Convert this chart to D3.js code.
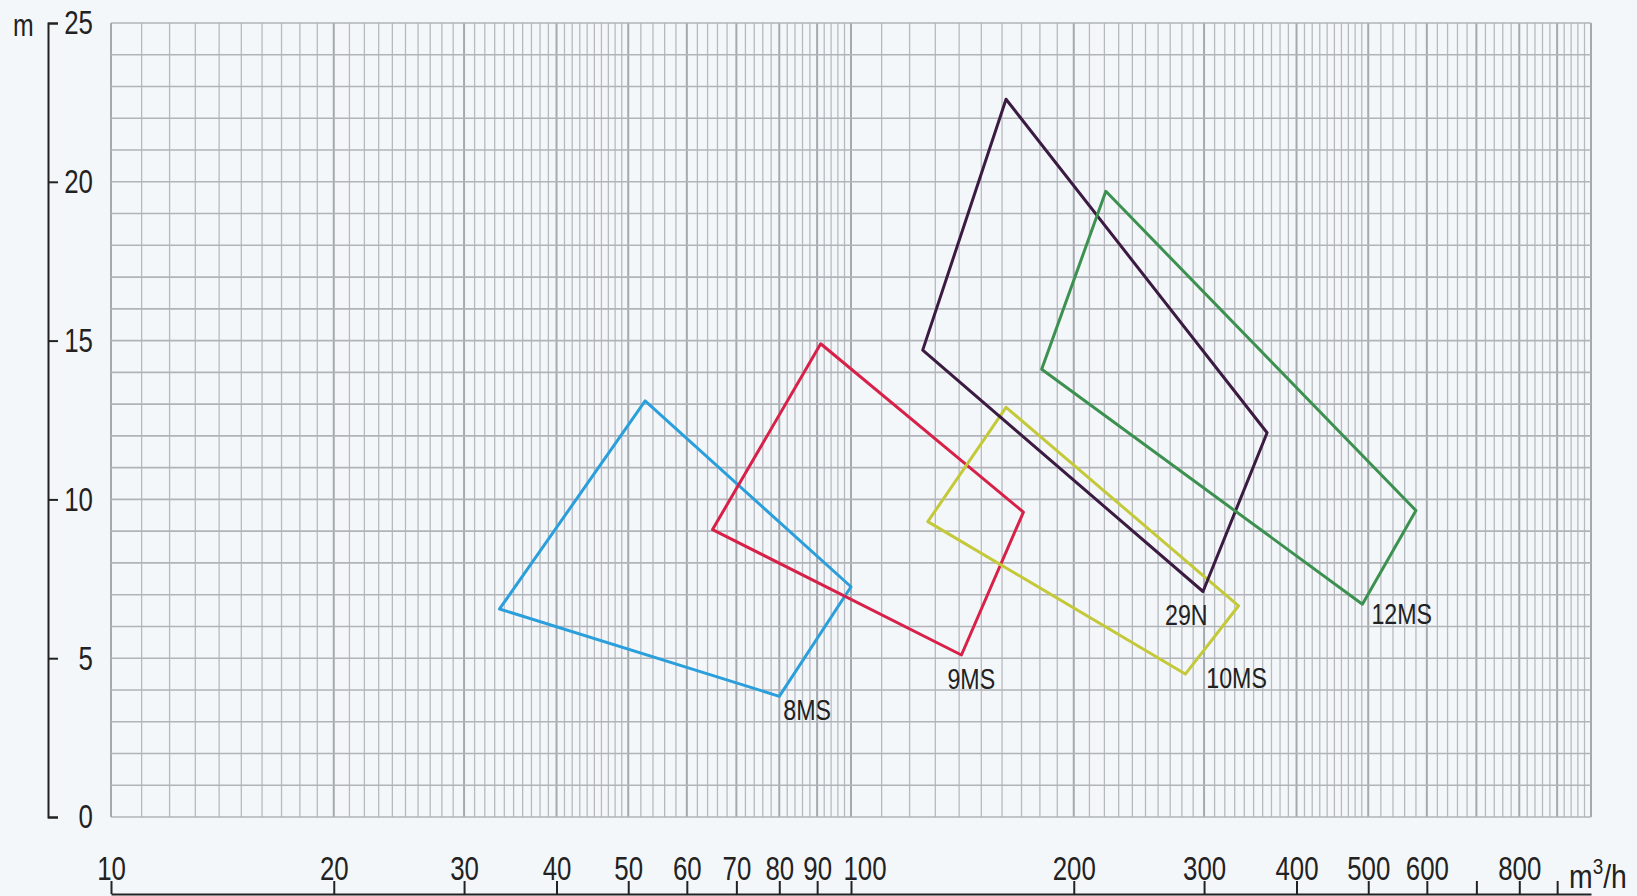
<!DOCTYPE html>
<html>
<head>
<meta charset="utf-8">
<script src="https://cdn.jsdelivr.net/npm/d3@7"></script>
<style>
  html, body { margin: 0; padding: 0; background: #f4f7fa; }
  svg { display: block; font-family: "Liberation Sans", Arial, sans-serif; }
</style>
</head>
<body>
<svg width="1637" height="896"></svg>
<script>
// pump ranges: flow Q (m3/h) and head H (m), corners in drawing order
const models = ['8MS', '9MS', '10MS', '29N', '12MS'];
const q8MS  = [52.7, 100, 80, 33.5];
const h8MS  = [13.1, 7.25, 3.8, 6.55];
const q9MS  = [91, 171, 141, 65];
const h9MS  = [14.9, 9.6, 5.1, 9.05];
const q10MS = [162, 334, 283, 127];
const h10MS = [12.9, 6.65, 4.5, 9.3];
const q29N  = [162, 365, 299, 125];
const h29N  = [22.6, 12.1, 7.1, 14.7];
const q12MS = [221, 580, 491, 181];
const h12MS = [19.7, 9.65, 6.7, 14.1];

const xTicks = [10, 20, 30, 40, 50, 60, 70, 80, 90, 100, 200, 300, 400, 500, 600, 700, 800, 900];
const xLabelsHidden = [700, 900];
const yTicks = [0, 5, 10, 15, 20, 25];

const colors = {'8MS': '#2b9fdb', '9MS': '#d82148', '10MS': '#c4c93a', '29N': '#3b1b42', '12MS': '#3d9150'};
// label offset from the lowest corner of each range
const labelOffset = {'8MS': [4, 24], '9MS': [-14, 34], '10MS': [21, 14], '29N': [-38, 33], '12MS': [9, 20]};

const ranges = [
    {name: '8MS', q: q8MS, h: h8MS},
    {name: '9MS', q: q9MS, h: h9MS},
    {name: '10MS', q: q10MS, h: h10MS},
    {name: '29N', q: q29N, h: h29N},
    {name: '12MS', q: q12MS, h: h12MS}
];

const svg = d3.select('svg');

// narrow drafting lettering
const condense = (sel, k) => sel.each(function () {
    const w = this.getComputedTextLength();
    if (w > 0) d3.select(this).attr('textLength', w * k).attr('lengthAdjust', 'spacingAndGlyphs');
});

// grid (log paper)
const x = d3.scaleLog().domain([10, 1000]).range([111, 1591]);
const y = d3.scaleLinear().domain([0, 25]).range([817, 23]);

const gridV = [];
for (let v = 10; v < 50; v += 1) gridV.push(v);
for (let v = 50; v < 100; v += 2) gridV.push(v);
for (let v = 100; v < 500; v += 10) gridV.push(v);
for (let v = 500; v <= 1000; v += 20) gridV.push(v);
const isMajor = v => {
    const p = Math.pow(10, Math.floor(Math.log10(v) + 1e-9));
    return Math.abs(v / p - Math.round(v / p)) < 1e-9;
};

const grid = svg.append('g').attr('stroke', '#b0b4b9');
grid.selectAll('line.v').data(gridV).enter().append('line')
    .attr('class', 'v')
    .attr('x1', d => x(d)).attr('x2', d => x(d))
    .attr('y1', y(25)).attr('y2', y(0))
    .attr('stroke-width', d => isMajor(d) ? 2 : 1.3)
    .attr('stroke', d => isMajor(d) ? '#a4a9ae' : '#b6babf');
grid.selectAll('line.h').data(d3.range(0, 26)).enter().append('line')
    .attr('class', 'h')
    .attr('x1', x(10)).attr('x2', x(1000))
    .attr('y1', d => y(d)).attr('y2', d => y(d))
    .attr('stroke-width', 1.6);

// y axis, set apart to the left
const yAxis = svg.append('g')
    .attr('transform', 'translate(48,0)')
    .call(d3.axisRight(y).tickValues(yTicks).tickSize(10).tickSizeOuter(10).tickPadding(0));
yAxis.select('.domain').attr('stroke', '#222').attr('stroke-width', 2);
yAxis.selectAll('.tick line').attr('stroke', '#222').attr('stroke-width', 2);
yAxis.selectAll('.tick text')
    .attr('x', 45).attr('text-anchor', 'end')
    .attr('font-size', 34).attr('fill', '#222')
    .call(condense, 0.76);

svg.append('text')
    .attr('x', 13).attr('y', 36)
    .attr('font-size', 31).attr('fill', '#222')
    .text('m')
    .call(condense, 0.8);

// x axis along the bottom
const xAxis = svg.append('g')
    .attr('transform', 'translate(0,894)')
    .call(d3.axisTop(x)
        .tickValues(xTicks)
        .tickSize(13).tickSizeOuter(0).tickPadding(1)
        .tickFormat(d => xLabelsHidden.includes(d) ? '' : d));
xAxis.select('.domain').attr('stroke', '#222').attr('stroke-width', 2);
xAxis.selectAll('.tick line').attr('stroke', '#222').attr('stroke-width', 2);
xAxis.selectAll('.tick text')
    .attr('font-size', 34).attr('fill', '#222')
    .call(condense, 0.76)
    .filter(d => d === 100).attr('text-anchor', 'start').attr('dx', -8);

const unit = svg.append('text')
    .attr('transform', 'translate(1569,888) scale(0.86,1)')
    .attr('font-size', 33).attr('fill', '#222');
unit.append('tspan').text('m');
unit.append('tspan').attr('font-size', 22).attr('dy', -14).text('3');
unit.append('tspan').attr('dy', 14).text('/h');

// pump ranges
const line = d3.line()
    .x(d => x(d[0]))
    .y(d => y(d[1]));

const polys = svg.append('g');
polys.selectAll('path').data(ranges).enter().append('path')
    .attr('d', r => line(r.q.map((q, i) => [q, r.h[i]])) + 'Z')
    .attr('fill', 'none')
    .attr('stroke', r => colors[r.name])
    .attr('stroke-width', 3)
    .attr('stroke-linejoin', 'round');

polys.selectAll('text').data(ranges).enter().append('text')
    .attr('x', r => x(r.q[d3.minIndex(r.h)]) + labelOffset[r.name][0])
    .attr('y', r => y(d3.min(r.h)) + labelOffset[r.name][1])
    .attr('font-size', 29).attr('fill', '#222')
    .text(r => r.name)
    .call(condense, 0.8);
</script>
</body>
</html>
